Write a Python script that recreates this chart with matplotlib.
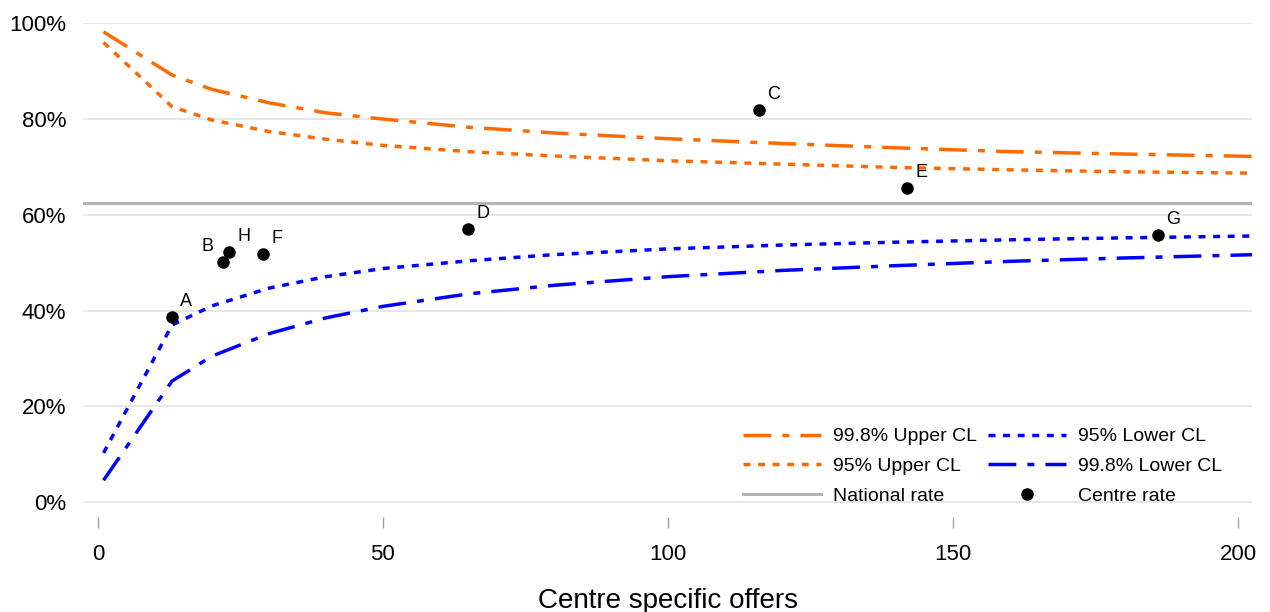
import numpy as np
import matplotlib
matplotlib.use("Agg")
import matplotlib.pyplot as plt
from matplotlib.ticker import PercentFormatter

plt.rcParams['font.family'] = ['Liberation Sans', 'DejaVu Sans']

# control limit curves (rate in %)
cl_offers = [1, 13, 20, 30, 40, 50, 65, 80, 100, 120, 140, 160, 180, 203]
upper_998 = [98.2, 89.2, 86.2, 83.4, 81.3, 80.0, 78.3, 77.1, 75.9, 74.9, 74.0, 73.2, 72.7, 72.2]
upper_95 = [96.0, 82.6, 79.8, 77.4, 75.8, 74.5, 73.2, 72.3, 71.3, 70.6, 69.9, 69.4, 69.0, 68.7]
lower_95 = [10.3, 37.0, 41.0, 44.7, 47.1, 48.8, 50.4, 51.7, 52.9, 53.7, 54.3, 54.8, 55.2, 55.6]
lower_998 = [4.6, 25.3, 30.5, 35.2, 38.5, 40.9, 43.5, 45.3, 47.1, 48.4, 49.4, 50.3, 51.0, 51.7]

national_rate = 62.4

# centres
centre_names = ['A', 'B', 'C', 'D', 'E', 'F', 'G', 'H']
centre_offers = [13, 22, 116, 65, 142, 29, 186, 23]
centre_rate = [38.6, 50.1, 81.8, 57.0, 65.6, 51.8, 55.9, 52.2]

orange = '#ff6a00'
blue = '#0000ff'

fig = plt.figure(figsize=(12.7, 6.12), dpi=100)
ax = fig.add_axes([0.0654, 0.155, 0.9206, 0.807])

dashdot = (8, 3.2, 2, 3.2)
dots = (2, 2.2)

ax.plot(cl_offers, upper_998, color=orange, lw=2.5, dashes=dashdot, label='99.8% Upper CL')
ax.plot(cl_offers, upper_95, color=orange, lw=2.5, dashes=dots, label='95% Upper CL')
ax.axhline(national_rate, color='#b4b4b4', lw=2.2, label='National rate')
ax.plot(cl_offers, lower_95, color=blue, lw=2.5, dashes=dots, label='95% Lower CL')
ax.plot(cl_offers, lower_998, color=blue, lw=2.5, dashes=dashdot, label='99.8% Lower CL')
ax.plot(centre_offers, centre_rate, 'o', color='black', ms=8, ls='none',
        label='Centre rate', zorder=5)

for name, x, y in zip(centre_names, centre_offers, centre_rate):
    if name == 'B':
        ax.annotate(name, (x, y), xytext=(-7, 5), textcoords='offset points',
                    ha='right', va='bottom', fontsize=13)
    else:
        ax.annotate(name, (x, y), xytext=(6, 5), textcoords='offset points',
                    ha='left', va='bottom', fontsize=13)

ax.set_xlim(-2.6, 202.5)
ax.set_ylim(-3.1, 100)
ax.set_xticks([0, 50, 100, 150, 200])
ax.set_yticks([0, 20, 40, 60, 80, 100])
ax.yaxis.set_major_formatter(PercentFormatter(decimals=0))
ax.grid(axis='y', color='#e0e0e0', lw=1.1)
ax.set_axisbelow(True)
for s in ax.spines.values():
    s.set_visible(False)
ax.tick_params(axis='x', length=8, width=1, color='#a0a0a0', pad=11, labelsize=16)
ax.tick_params(axis='y', length=0, pad=12, labelsize=16)
ax.set_xlabel('Centre specific offers', fontsize=20, labelpad=17)

ax.legend(ncol=2, frameon=False,
          loc='lower right', bbox_to_anchor=(0.974, 0.025), fontsize=14,
          handlelength=4, handletextpad=0.6, columnspacing=0.6,
          labelspacing=0.62, borderpad=0, borderaxespad=0)

fig.savefig('out.png', dpi=100)
